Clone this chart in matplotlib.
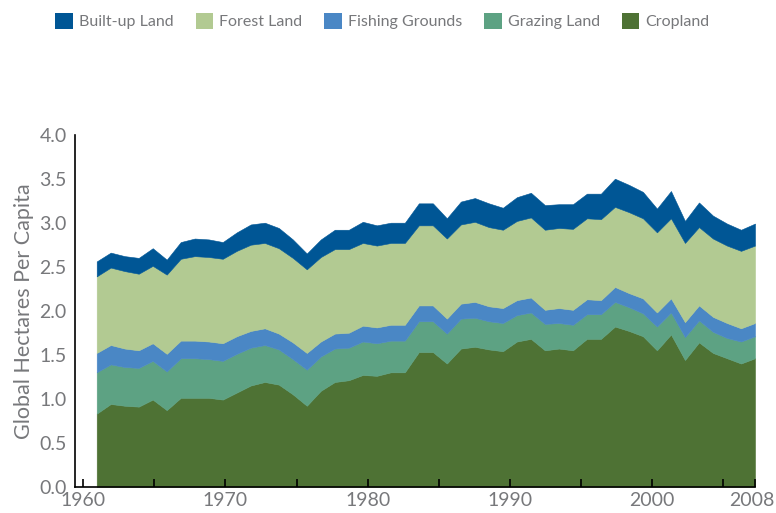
import matplotlib
matplotlib.use("Agg")
import matplotlib.pyplot as plt
import matplotlib.transforms as mtransforms
from matplotlib.patches import Patch
from matplotlib.ticker import FixedLocator

years = list(range(1961, 2009))

cropland = [0.83, 0.94, 0.92, 0.91, 0.99, 0.87, 1.01, 1.01, 1.01, 0.99,
            1.07, 1.15, 1.19, 1.16, 1.05, 0.92, 1.09, 1.19, 1.21, 1.27,
            1.26, 1.30, 1.30, 1.53, 1.53, 1.40, 1.57, 1.59, 1.56, 1.54,
            1.65, 1.68, 1.55, 1.57, 1.55, 1.68, 1.68, 1.82, 1.77, 1.71,
            1.55, 1.73, 1.44, 1.64, 1.52, 1.46, 1.40, 1.46]
grazing = [0.47, 0.45, 0.44, 0.44, 0.44, 0.44, 0.45, 0.45, 0.44, 0.44,
           0.44, 0.43, 0.42, 0.40, 0.40, 0.41, 0.39, 0.38, 0.37, 0.38,
           0.37, 0.36, 0.36, 0.35, 0.35, 0.34, 0.34, 0.33, 0.32, 0.32,
           0.30, 0.30, 0.30, 0.29, 0.29, 0.28, 0.28, 0.28, 0.27, 0.26,
           0.27, 0.25, 0.26, 0.25, 0.24, 0.23, 0.25, 0.25]
fishing = [0.22, 0.22, 0.21, 0.20, 0.20, 0.20, 0.20, 0.20, 0.20, 0.20,
           0.20, 0.19, 0.19, 0.18, 0.19, 0.19, 0.17, 0.17, 0.17, 0.18,
           0.18, 0.18, 0.18, 0.18, 0.18, 0.17, 0.17, 0.18, 0.17, 0.17,
           0.17, 0.17, 0.16, 0.17, 0.17, 0.17, 0.16, 0.17, 0.16, 0.17,
           0.16, 0.16, 0.17, 0.17, 0.17, 0.17, 0.15, 0.15]
forest = [0.87, 0.88, 0.88, 0.87, 0.88, 0.90, 0.93, 0.96, 0.96, 0.96,
          0.97, 0.98, 0.97, 0.97, 0.96, 0.95, 0.96, 0.96, 0.95, 0.94,
          0.93, 0.93, 0.93, 0.91, 0.91, 0.91, 0.90, 0.91, 0.90, 0.89,
          0.90, 0.91, 0.91, 0.91, 0.92, 0.92, 0.92, 0.91, 0.92, 0.91,
          0.91, 0.91, 0.90, 0.89, 0.89, 0.88, 0.88, 0.88]
builtup = [0.17, 0.17, 0.17, 0.18, 0.20, 0.17, 0.19, 0.20, 0.20, 0.19,
           0.21, 0.23, 0.23, 0.23, 0.21, 0.18, 0.20, 0.22, 0.22, 0.24,
           0.23, 0.23, 0.23, 0.25, 0.25, 0.23, 0.26, 0.27, 0.27, 0.25,
           0.27, 0.28, 0.28, 0.27, 0.28, 0.28, 0.29, 0.32, 0.31, 0.30,
           0.27, 0.31, 0.25, 0.28, 0.26, 0.25, 0.24, 0.25]

series_names = ["Cropland", "Grazing Land", "Fishing Grounds", "Forest Land", "Built-up Land"]
colors = ["#4E7234", "#5DA283", "#4A87C5", "#B2CA92", "#005695"]

tick_years = [1960, 1965, 1970, 1975, 1980, 1985, 1990, 1995, 2000, 2005]
label_years = [1960, 1970, 1980, 1990, 2000]
end_label = "2008"
y_ticks = [0.0, 0.5, 1.0, 1.5, 2.0, 2.5, 3.0, 3.5, 4.0]

GRAY = "#77787B"
plt.rcParams["font.family"] = ["Lato", "DejaVu Sans"]

W, H = 776, 513
fig = plt.figure(figsize=(W / 100, H / 100), dpi=100)
ax = fig.add_axes([75 / W, 26.3 / H, 680 / W, 352 / H])

ax.stackplot(years, cropland, grazing, fishing, forest, builtup,
             colors=colors, linewidth=0.4, edgecolor="face")

ax.set_xlim(1959.45, 2008)
ax.set_ylim(0, 4.0)

# axis tick positions (the reference axis scale is slightly wider than the data spacing)
scale = 1.0152
tpos = [1960.04 + (t - 1960) * scale for t in tick_years] + [2008]
tlabels = [str(t) if t in label_years else "" for t in tick_years] + [end_label]
ax.set_xticks(tpos)
ax.set_xticklabels(tlabels)
ax.tick_params(axis="x", direction="in", length=6, width=1.2, color="black",
               labelsize=14, labelcolor=GRAY, pad=4)
last = ax.get_xticklabels()[-1]
last.set_transform(last.get_transform() + mtransforms.ScaledTranslation(-3 / 100, 0, fig.dpi_scale_trans))

ax.set_yticks(y_ticks)
ax.set_yticklabels([f"{v:.1f}" for v in y_ticks])
ax.tick_params(axis="y", which="major", length=0, labelsize=14, labelcolor=GRAY, pad=6)
ax.yaxis.set_minor_locator(FixedLocator([4.0]))
ax.tick_params(axis="y", which="minor", direction="in", length=12.5, width=1.8, color="black")

for s in ["top", "right"]:
    ax.spines[s].set_visible(False)
for s in ["left", "bottom"]:
    ax.spines[s].set_color("black")
    ax.spines[s].set_linewidth(1.2)

ax.set_ylabel("Global Hectares Per Capita", fontsize=15.5, color=GRAY, labelpad=4)

handles = [Patch(facecolor=colors[i], edgecolor="none") for i in range(4, -1, -1)]
labels = [series_names[i] for i in range(4, -1, -1)]
fig.legend(handles, labels, ncol=5, loc="upper left", bbox_to_anchor=(49 / W, 1 - 7 / H),
           frameon=False, fontsize=11.5, labelcolor=GRAY, handlelength=1.1, handleheight=1.1,
           handletextpad=0.4, columnspacing=1.35, borderaxespad=0)

fig.savefig("out.png", dpi=100)
